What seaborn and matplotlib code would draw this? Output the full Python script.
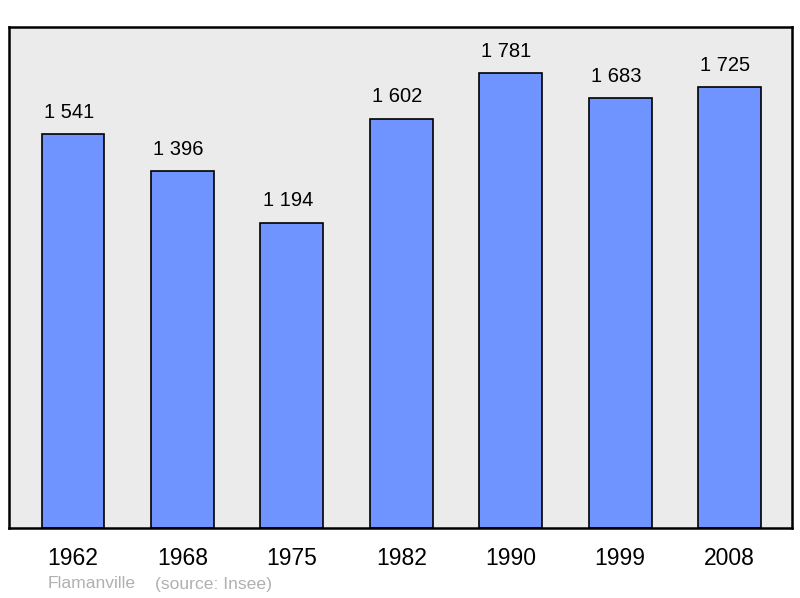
import pandas as pd
import matplotlib.pyplot as plt
import seaborn as sns

years = ['1962', '1968', '1975', '1982', '1990', '1999', '2008']
population = [1541, 1396, 1194, 1602, 1781, 1683, 1725]
value_labels = ['1 541', '1 396', '1 194', '1 602', '1 781', '1 683', '1 725']

df = pd.DataFrame({'year': years, 'population': population})

sns.set_theme(style="white")
plt.rcParams['font.family'] = ['Liberation Sans', 'DejaVu Sans']

fig = plt.figure(figsize=(8, 5.98), dpi=100)
ax = fig.add_axes([0.01125, 0.117, 0.97875, 0.8378])
ax.set_facecolor('#ebebeb')

sns.barplot(data=df, x='year', y='population', color='#7094ff', saturation=1,
            width=0.575, edgecolor='black', linewidth=1.2, ax=ax)

# value labels above each bar
for i, (v, lab) in enumerate(zip(population, value_labels)):
    ax.annotate(lab, (i, v), xytext=(-3, 9), textcoords='offset points',
                ha='center', va='bottom', fontsize=14.5, color='black')

ax.set_xlim(-0.585, 6.57)
ax.set_ylim(0, 1961)
ax.set_yticks([])
ax.set_xlabel('')
ax.set_ylabel('')
ax.tick_params(axis='x', length=0, labelsize=16.5, pad=14, colors='black')
for s in ax.spines.values():
    s.set_color('black')
    s.set_linewidth(1.8)

fig.text(48 / 800, 1 - 584 / 598, 'Flamanville', color='#b0b0b0', fontsize=12.6,
         va='center', ha='left')
fig.text(155 / 800, 1 - 584 / 598, '(source: Insee)', color='#b0b0b0', fontsize=12.6,
         va='center', ha='left')

fig.savefig('out.png', dpi=100)
